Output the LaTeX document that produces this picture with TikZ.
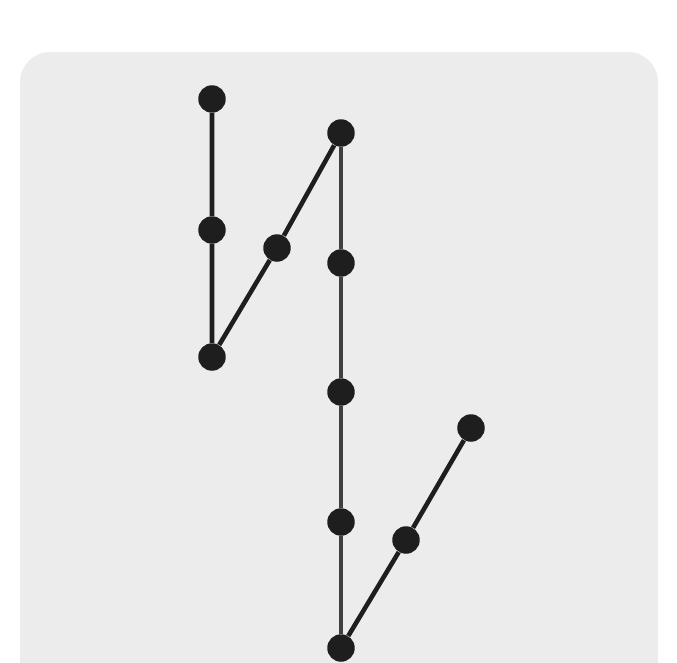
\documentclass[tikz,border=0pt]{standalone}
\usepackage{xcolor}
\usepackage{tikz}
\definecolor{bgpanel}{HTML}{ECECEC}
\definecolor{dotgray}{HTML}{1E1E1E}
\tikzset{dot/.style={circle,fill=dotgray,inner sep=0pt,minimum size=0.55cm},
  link/.style={line width=2.6pt,dotgray},
  spine/.style={line width=2pt,dotgray!85}}
\begin{document}
\begin{tikzpicture}[x=0.02cm,y=-0.02cm]
\useasboundingbox(0,0)rectangle(677,663);
\fill[bgpanel,rounded corners=0.6cm](20,52)rectangle(658,720);
\node[dot](a)at(212,99){};
\node[dot](b)at(212,230){};
\node[dot](c)at(212,357){};
\node[dot](d)at(277,248){};
\node[dot](e)at(341,133){};
\node[dot](f)at(341,263){};
\node[dot](g)at(341,392){};
\node[dot](h)at(341,522){};
\node[dot](i)at(341,648){};
\node[dot](j)at(406,540){};
\node[dot](k)at(471,428){};
\draw[link](a)--(b)--(c)--(d)--(e);
\draw[spine](e)--(f)--(g)--(h)--(i);
\draw[link](i)--(j)--(k);
\end{tikzpicture}
\end{document}
